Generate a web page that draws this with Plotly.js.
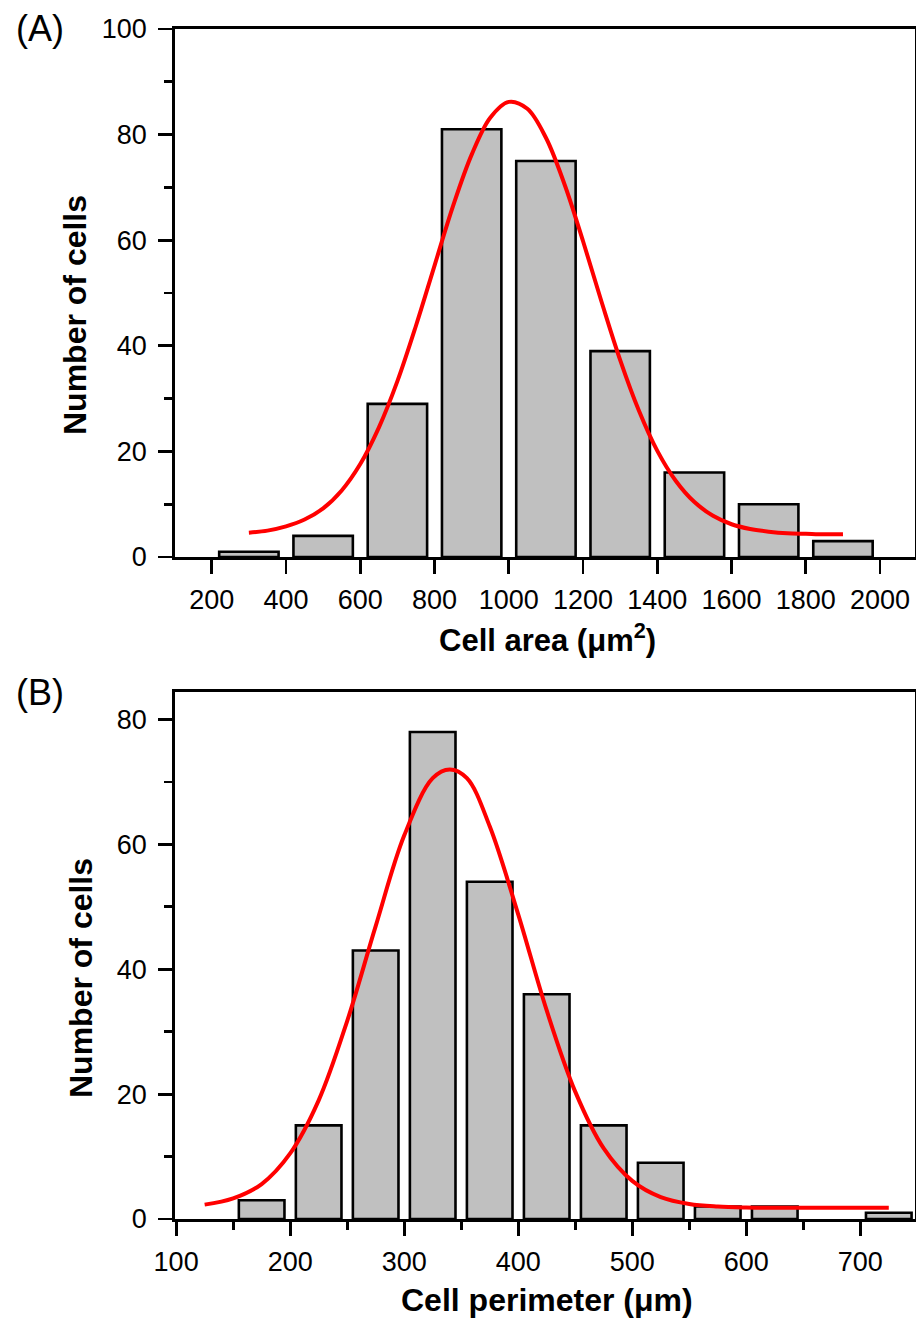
<!DOCTYPE html>
<html>
<head>
<meta charset="utf-8">
<script src="https://cdn.plot.ly/plotly-3.0.1.min.js"></script>
<style>html,body{margin:0;padding:0;background:#fff;}#chart{width:916px;height:1322px;}</style>
</head>
<body>
<div id="chart"></div>
<script>
// Panel A: cell area histogram (bin centres, counts)
const areaCenters = [300, 500, 700, 900, 1100, 1300, 1500, 1700, 1900];
const areaCounts  = [1, 4, 29, 81, 75, 39, 16, 10, 3];
// Panel A: fitted curve
const areaFitX = [300,350,400,450,500,550,600,650,700,750,800,850,900,950,1000,1050,1100,1150,1200,1250,1300,1350,1400,1450,1500,1550,1600,1650,1700,1750,1800,1850,1900];
const areaFitY = [4.6,5.0,5.8,7.1,9.2,12.6,17.6,24.5,33.3,43.8,55.2,66.5,76.2,83.2,86.2,84.9,79.4,70.6,59.8,48.3,37.3,27.8,20.1,14.4,10.4,7.8,6.2,5.3,4.8,4.5,4.4,4.3,4.3];

// Panel B: cell perimeter histogram
const perimCenters = [175, 225, 275, 325, 375, 425, 475, 525, 575, 625, 725];
const perimCounts  = [3, 15, 43, 78, 54, 36, 15, 9, 2, 2, 1];
const perimFitX = [125,150,175,200,225,250,275,300,325,340,355,375,400,425,450,475,500,525,550,575,600,625,650,675,700,725];
const perimFitY = [2.3,3.3,5.6,10.5,19.0,31.7,46.9,61.4,70.6,72.0,70.6,62.9,48.8,33.4,20.4,11.3,6.1,3.5,2.4,2.0,1.85,1.8,1.8,1.8,1.8,1.8];

const W = 916, H = 1322;
const px = x => x / W;
const py = y => 1 - y / H;

const FONT = 'Arial, "Liberation Sans", sans-serif';
const barStyle = {color: '#c0c0c0', line: {color: '#000', width: 2.6}};
const fitStyle = {color: '#ff0000', width: 4, shape: 'spline', smoothing: 1};

const traces = [
  {type: 'bar', x: areaCenters, y: areaCounts, width: 160, marker: barStyle, xaxis: 'x', yaxis: 'y', hoverinfo: 'skip'},
  {type: 'scatter', mode: 'lines', x: areaFitX, y: areaFitY, line: fitStyle, xaxis: 'x', yaxis: 'y', hoverinfo: 'skip'},
  {type: 'bar', x: perimCenters, y: perimCounts, width: 40, marker: barStyle, xaxis: 'x2', yaxis: 'y2', hoverinfo: 'skip'},
  {type: 'scatter', mode: 'lines', x: perimFitX, y: perimFitY, line: fitStyle, xaxis: 'x2', yaxis: 'y2', hoverinfo: 'skip'}
];

const axCommon = {
  showline: true, linecolor: '#000', linewidth: 2.8, mirror: true,
  showgrid: false, zeroline: false,
  ticks: 'outside', ticklen: 14, tickwidth: 2.8, tickcolor: '#000',
  tickfont: {family: FONT, size: 27, color: '#000'},
  fixedrange: true
};
const minorTicks = (d) => ({ticks: 'outside', ticklen: 8, tickwidth: 2.8, tickcolor: '#000', dtick: d, showgrid: false});

const layout = {
  width: W, height: H,
  margin: {l: 0, r: 0, t: 0, b: 0},
  paper_bgcolor: '#fff', plot_bgcolor: '#fff',
  showlegend: false,
  bargap: 0,
  xaxis: Object.assign({}, axCommon, {domain: [px(175), px(915)], range: [101, 2094], tick0: 200, dtick: 200, anchor: 'y', ticklabelstandoff: 3}),
  yaxis: Object.assign({}, axCommon, {domain: [py(557), py(29)], range: [0, 100], tick0: 0, dtick: 20, minor: minorTicks(10), anchor: 'x', ticklabelstandoff: 6}),
  xaxis2: Object.assign({}, axCommon, {domain: [px(175), px(915)], range: [99, 748], tick0: 100, dtick: 100, minor: minorTicks(50), anchor: 'y2', ticklabelstandoff: 3}),
  yaxis2: Object.assign({}, axCommon, {domain: [py(1219), py(692)], range: [0, 84.4], tick0: 0, dtick: 20, minor: minorTicks(10), anchor: 'x2', ticklabelstandoff: 6}),
  annotations: [
    {text: '(A)', x: px(40), y: py(29), xref: 'paper', yref: 'paper', showarrow: false, xanchor: 'center', yanchor: 'middle', font: {family: FONT, size: 36, color: '#000'}},
    {text: '(B)', x: px(40), y: py(692), xref: 'paper', yref: 'paper', showarrow: false, xanchor: 'center', yanchor: 'middle', font: {family: FONT, size: 36, color: '#000'}},
    {text: '<b>Number of cells</b>', textangle: -90, x: px(75), y: py(315), xref: 'paper', yref: 'paper', showarrow: false, xanchor: 'center', yanchor: 'middle', font: {family: FONT, size: 32, color: '#000'}},
    {text: '<b>Number of cells</b>', textangle: -90, x: px(81), y: py(978), xref: 'paper', yref: 'paper', showarrow: false, xanchor: 'center', yanchor: 'middle', font: {family: FONT, size: 32, color: '#000'}},
    {text: '<b>Cell area (μm<sup>2</sup>)</b>', x: px(547), y: py(638), xref: 'paper', yref: 'paper', showarrow: false, xanchor: 'center', yanchor: 'middle', font: {family: FONT, size: 31, color: '#000'}},
    {text: '<b>Cell perimeter (μm)</b>', x: px(547), y: py(1300), xref: 'paper', yref: 'paper', showarrow: false, xanchor: 'center', yanchor: 'middle', font: {family: FONT, size: 32, color: '#000'}}
  ]
};

Plotly.newPlot('chart', traces, layout, {staticPlot: true, displayModeBar: false});
</script>
</body>
</html>
